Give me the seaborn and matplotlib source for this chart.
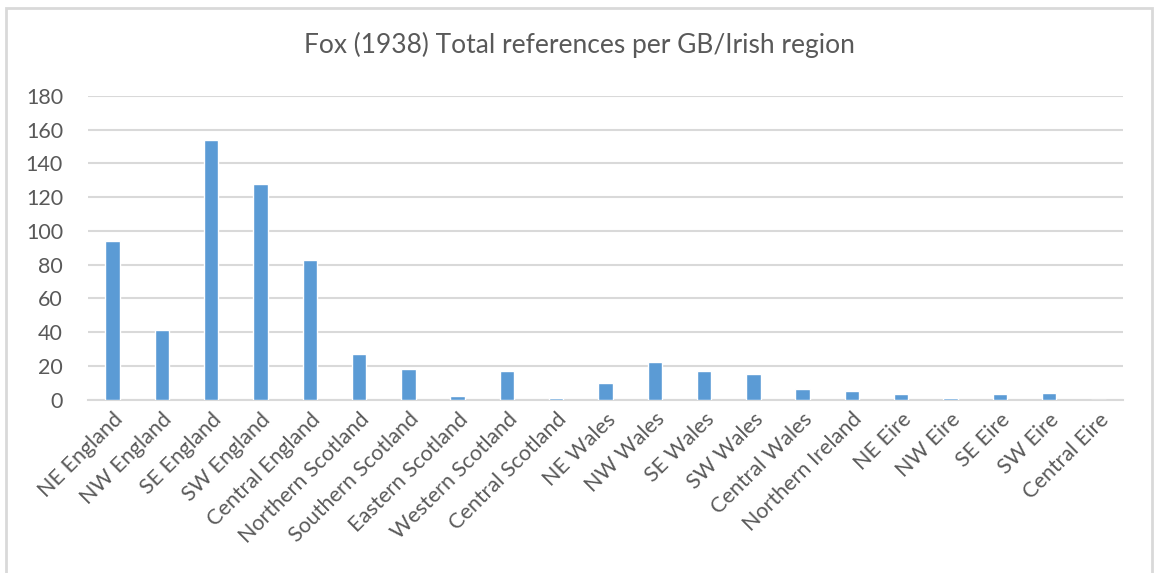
import matplotlib
matplotlib.use('Agg')
import matplotlib.pyplot as plt
import seaborn as sns
import pandas as pd
from matplotlib.patches import Rectangle

# datos
regions = ['NE England', 'NW England', 'SE England', 'SW England', 'Central England',
           'Northern Scotland', 'Southern Scotland', 'Eastern Scotland', 'Western Scotland',
           'Central Scotland', 'NE Wales', 'NW Wales', 'SE Wales', 'SW Wales', 'Central Wales',
           'Northern Ireland', 'NE Eire', 'NW Eire', 'SE Eire', 'SW Eire', 'Central Eire']
references = [94, 41, 154, 128, 83,
              27, 18, 2, 17,
              1, 10, 22, 17, 15, 6,
              5, 3, 1, 3, 4, 0]
title = 'Fox (1938) Total references per GB/Irish region'

df = pd.DataFrame({'region': regions, 'refs': references})

sns.set_style('white')
plt.rcParams['font.family'] = ['Lato', 'DejaVu Sans']

grey_txt = '#595959'
grid_col = '#D9D9D9'

fig = plt.figure(figsize=(11.54, 5.73), dpi=100)
ax = fig.add_axes([88/1154, 1 - 399.5/573, (1123 - 88)/1154, (399.5 - 96)/573])

sns.barplot(data=df, x='region', y='refs', color='#5B9BD5', width=0.29,
            saturation=1, ax=ax)

ax.set_ylim(0, 180)
ax.set_yticks(range(0, 181, 20))
ax.set_xlim(-0.5, len(regions) - 0.5)
ax.yaxis.grid(True, color=grid_col, linewidth=1.5)
ax.set_axisbelow(True)
for s in ['top', 'right', 'left']:
    ax.spines[s].set_visible(False)
ax.spines['bottom'].set_color(grid_col)
ax.spines['bottom'].set_linewidth(1.5)
ax.spines['bottom'].set_zorder(0.5)
ax.set_xlabel('')
ax.set_ylabel('')
ax.tick_params(axis='y', length=0, pad=18, labelsize=15.5, labelcolor=grey_txt)
ax.tick_params(axis='x', length=0, pad=7, labelsize=15.5, labelcolor=grey_txt)
plt.setp(ax.get_xticklabels(), rotation=45, ha='right', rotation_mode='anchor')

fig.text(0.502, 1 - 45/573, title, ha='center', va='center', fontsize=19, color=grey_txt)

# marco del grafico
fig.patches.append(Rectangle((6/1154, -0.05), (1152 - 6)/1154, 1.05 - 8/573,
                             transform=fig.transFigure, fill=False,
                             edgecolor=grid_col, linewidth=2))

fig.savefig('out.png', dpi=100)
plt.close()
